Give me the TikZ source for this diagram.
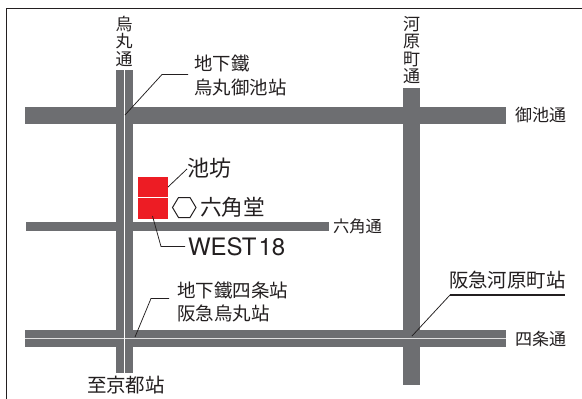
\documentclass[tikz,border=0pt]{standalone}
\usepackage{fontspec}
\setmainfont{TeX Gyre Heros}
\newfontfamily\jpfont{Noto Sans CJK JP}
\definecolor{roadgray}{RGB}{109,110,113}
\definecolor{boxred}{RGB}{237,28,36}
\definecolor{inkdark}{RGB}{35,31,32}
\tikzset{
  roadbox/.style={fill=roadgray,draw=none,inner sep=0pt,outer sep=0pt},
  redbox/.style={fill=boxred,draw=none,inner sep=0pt,outer sep=0pt,minimum width=30pt},
  whiteline/.style={draw=white,line width=1pt},
  paleline/.style={draw=black!12,line width=1.3pt},
  leader/.style={draw=inkdark,line width=0.75pt},
  heavyleader/.style={draw=inkdark,line width=1.3pt},
  frameline/.style={draw=inkdark,line width=0.9pt},
  lab/.style={inner sep=0pt,outer sep=0pt,text=inkdark,anchor=center},
  stackl/.style={lab,align=center,font=\fontsize{17}{17.5}\selectfont\jpfont},
}
\newcommand{\jpsize}[1]{\fontsize{#1}{#1}\selectfont\jpfont}
\begin{document}
\begin{tikzpicture}[x=1pt,y=-1pt]
\useasboundingbox (0,0) rectangle (582,399);
\fill[white] (0,0) rectangle (582,399);
\draw[frameline] (6.5,399) -- (6.5,8) -- (582,8);
% roads
\node[roadbox,minimum width=481pt,minimum height=17pt] (oike) at (265.5,115.5) {};
\node[roadbox,minimum width=303pt,minimum height=9.5pt] (rokkaku) at (177.5,226.5) {};
\node[roadbox,minimum width=481pt,minimum height=17pt] (shijo) at (265.5,338.5) {};
\node[roadbox,minimum width=17pt,minimum height=303pt] (karasuma) at (124.5,221.5) {};
\node[roadbox,minimum width=17pt,minimum height=297pt] (kawara) at (411.5,236.5) {};
\draw[paleline] (shijo.west) -- (shijo.east);
\draw[whiteline] ([yshift=2pt]karasuma.north) -- ([yshift=-2pt]karasuma.south);
% buildings
\node[redbox,minimum height=20pt] (ikenobo) at (153,187) {};
\node[redbox,minimum height=21pt] (west) at (153,208.5) {};
% free ends and bends
\coordinate (k1) at (125,115);
\coordinate (k2) at (162,74.5);
\coordinate (k3) at (188,74.5);
\coordinate (i2) at (187,169);
\coordinate (w1) at (152.5,216);
\coordinate (w2) at (161,246.5);
\coordinate (w3) at (185,246.5);
\coordinate (s1) at (135,337);
\coordinate (s2) at (151,298.5);
\coordinate (s3) at (169,298.5);
\coordinate (h1) at (412,336);
\coordinate (h2) at (450,295);
\coordinate (h3) at (565,295);
\draw[leader] (k1) -- (k2) -- (k3);
\draw[leader] (ikenobo.east) -- (i2);
\draw[leader] (w1) -- (w2) -- (w3);
\draw[leader] (s1) -- (s2) -- (s3);
\draw[leader] (h1) -- (h2);
\draw[heavyleader] (h2) -- (h3);
% hexagon
\draw[draw=inkdark,line width=1pt] (172.5,207.5) -- (178.5,197.5) -- (190,197.5) -- (196,207.5) -- (190,217.5) -- (178.5,217.5) -- cycle;
% labels
\node[stackl] (lk) at (124,41) {烏\\丸\\通};
\node[stackl] (lka) at (411.5,50) {河\\原\\町\\通};
\node[lab,anchor=west] (l1) at (194.5,63.5) {\jpsize{18.4}地下鐵};
\node[lab,anchor=west] (l2) at (194.5,87) {\jpsize{18.4}烏丸御池站};
\node[lab,anchor=west] (l3) at (515,115) {\jpsize{17}御池通};
\node[lab,anchor=west] (l4) at (187,168.5) {\jpsize{22}池坊};
\node[lab,anchor=west] (l5) at (200,207.5) {\jpsize{21.7}六角堂};
\node[lab,anchor=west] (l6) at (333,226.5) {\jpsize{16.3}六角通};
\node[lab,anchor=west] (l7) at (188,246.5) {\fontsize{24}{24}\selectfont WEST\kern2pt 18};
\node[lab,anchor=west] (l8) at (177,290) {\jpsize{18.5}地下鐵四条站};
\node[lab,anchor=west] (l9) at (177,313) {\jpsize{18.5}阪急烏丸站};
\node[lab,anchor=west] (l10) at (449,280) {\jpsize{19.4}阪急河原町站};
\node[lab,anchor=west] (l11) at (515,339) {\jpsize{17}四条通};
\node[lab,anchor=west] (l12) at (87,385.5) {\jpsize{19.5}至京都站};
\end{tikzpicture}
\end{document}
